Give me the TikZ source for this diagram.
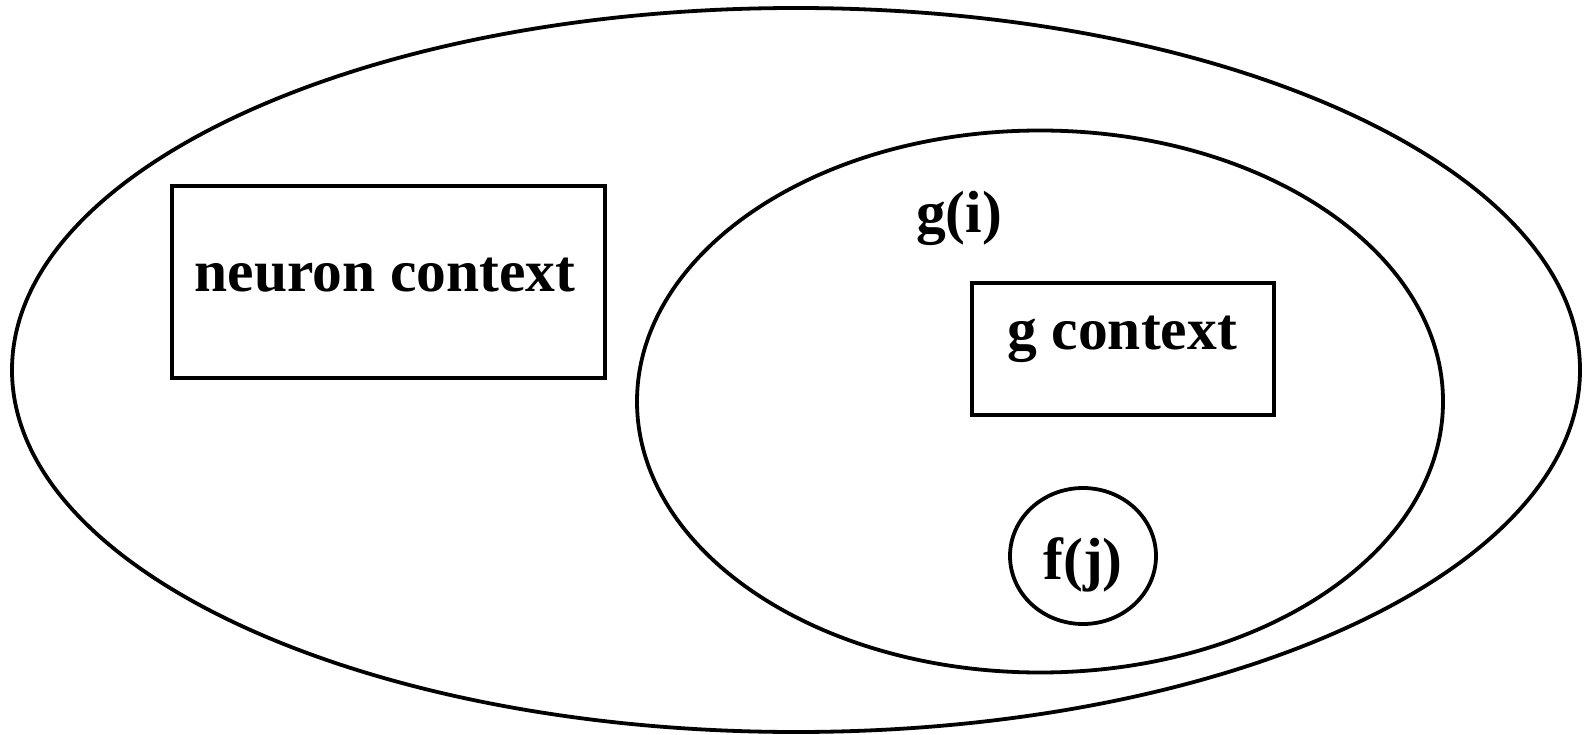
\documentclass[tikz,border=0pt]{standalone}
\usepackage{fontspec}
\setmainfont{Liberation Serif}
\usetikzlibrary{shapes.geometric}
\begin{document}
\begin{tikzpicture}[x=1pt,y=-1pt,
  shapeline/.style={draw=black,line width=3.8pt,inner sep=0pt},
  oval/.style={shapeline,ellipse},
  boxnode/.style={shapeline,rectangle},
  lbl/.style={anchor=base,inner sep=0pt,font=\fontsize{59.5}{70}\selectfont\bfseries}]
\useasboundingbox (0,0) rectangle (1586,735);
\node[oval,minimum width=1568pt,minimum height=724pt] (outer) at (796,370) {};
\node[oval,minimum width=806pt,minimum height=542pt] (inner) at (1040,401.5) {};
\node[boxnode,minimum width=433pt,minimum height=192pt] (neuronbox) at (388.5,282) {};
\node[boxnode,minimum width=302pt,minimum height=132pt] (gbox) at (1123,349) {};
\node[oval,minimum width=146pt,minimum height=136pt] (fcirc) at (1083,556) {};
\node[lbl] (neurontxt) at (385,291) {neuron context};
\node[lbl] (gtxt) at (1122,349) {g context};
\node[lbl] (gi) at (959,233) {g(i)};
\node[lbl] (fj) at (1083,579) {f(j)};
\end{tikzpicture}
\end{document}
